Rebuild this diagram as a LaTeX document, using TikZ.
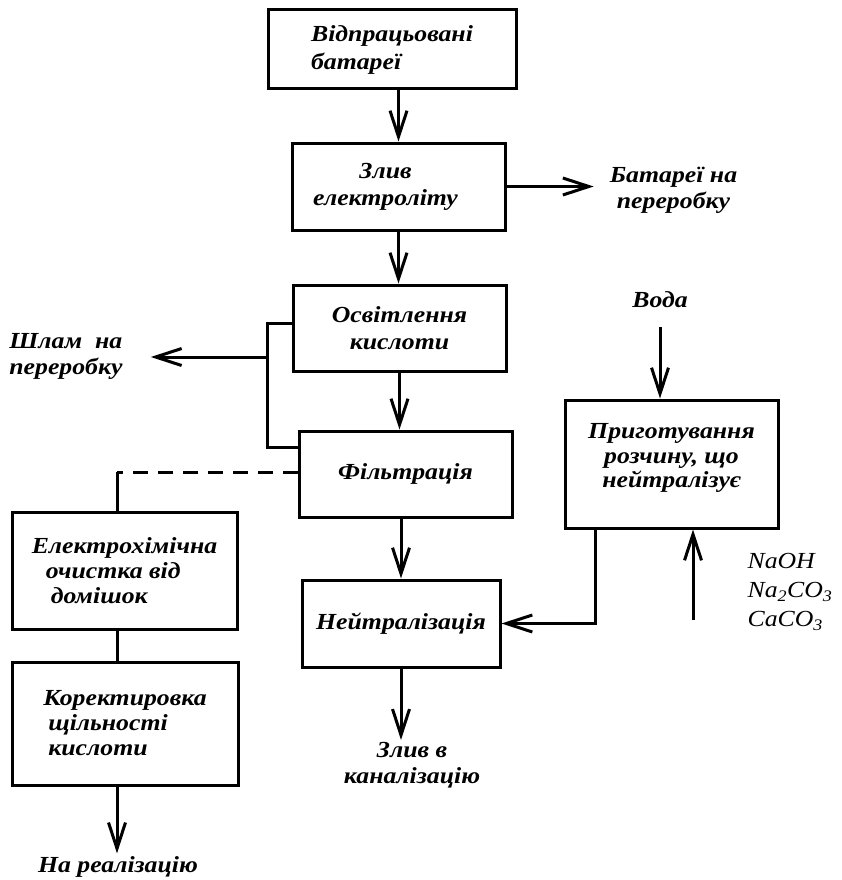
\documentclass[tikz,border=0pt]{standalone}
\usepackage{fontspec}
\setmainfont[FakeStretch=1.12]{Liberation Serif}
\usetikzlibrary{arrows.meta, positioning}

\begin{document}
\begin{tikzpicture}[x=1pt, y=-1pt,
    stage/.style={rectangle, draw, line width=3pt, inner sep=0pt, align=center,
        font=\fontsize{23}{25}\selectfont\bfseries\itshape},
    outlet/.style={rectangle, inner sep=0pt,
        font=\fontsize{23}{26}\selectfont\bfseries\itshape},
    flow/.style={line width=3pt, -{Straight Barb[length=26pt, width=17pt]}},
    link/.style={line width=3pt}]
        \useasboundingbox (0,0) rectangle (842,880);

        \node[stage, minimum width=248pt, minimum height=79pt, align=left,
            font=\fontsize{23}{28}\selectfont\bfseries\itshape] (b1) at (392,49.5)
            {Відпрацьовані\\батареї};

        \node[stage, minimum width=213pt, minimum height=87pt,
            font=\fontsize{23}{27}\selectfont\bfseries\itshape] (b2) at (398.5,186.5)
            {Злив\hspace*{26pt}\\електроліту\hspace*{26pt}};

        \node[stage, minimum width=213pt, minimum height=86pt,
            font=\fontsize{23}{27}\selectfont\bfseries\itshape] (b3) at (399.5,328)
            {Освітлення\\кислоти};

        \node[stage, minimum width=213pt, minimum height=86pt] (filt) at (405.5,474)
            {Фільтрація};

        \node[stage, minimum width=198pt, minimum height=87pt] (neut) at (401,623.5)
            {Нейтралізація};

        \node[stage, minimum width=213pt, minimum height=128pt,
            font=\fontsize{23}{24.5}\selectfont\bfseries\itshape] (prep) at (671.5,464)
            {Приготування\\розчину, що\hspace*{20pt}\\нейтралізує\\[-8pt]};

        \node[stage, minimum width=225pt, minimum height=117pt, align=left] (elec) at (124.5,570.5)
            {Електрохімічна\\\hspace*{14pt}очистка від\\\hspace*{19pt}домішок};

        \node[stage, minimum width=226pt, minimum height=123pt, align=left] (corr) at (125,723.5)
            {Коректировка\\\hspace*{5pt}щільності\\\hspace*{5pt}кислоти};

        \node[outlet, align=center] (bat) at (673.5,190) {Батареї на\\переробку};
        \node[outlet, align=left] (sludge) at (66,356) {Шлам\ \ на\\переробку};
        \node[outlet, align=center] (drain) at (412,765) {Злив в\\каналізацію};
        \node[outlet] (sale) at (118,867) {На реалізацію};
        \node[outlet] (water) at (660,300) {Вода};
        \node[outlet, align=left, font=\fontsize{23}{29}\selectfont\itshape] (reag) at (790,592)
            {NaOH\\Na\textsubscript{2}CO\textsubscript{3}\\CaCO\textsubscript{3}};

        \coordinate (jn) at (267,357);
        \coordinate (dn) at (117,472);
        \coordinate (rg) at (693,620);

        \draw[flow] (b1.south -| b2.north) -- (b2.north);
        \draw[flow] (b2.south) -- (b2.south |- b3.north);
        \draw[flow] (b3.south) -- (b3.south |- filt.north);
        \draw[flow] (filt.south -| neut.north) -- (neut.north);
        \draw[flow, shorten >=2pt] (neut.south) -- (neut.south |- drain.north);
        \draw[flow, shorten >=16pt] (b2.east) -- (bat.west |- b2.east);

        \draw[link] ([yshift=5pt]b3.west) -| (jn) |- ([yshift=27pt]filt.west);
        \draw[flow, shorten >=28pt] (jn) -- (sludge.east |- jn);

        \draw[link, dash pattern=on 15pt off 10pt] ([yshift=2pt]filt.west) -- (dn);
        \draw[link] (dn) -- (dn |- elec.north);
        \draw[link] (elec.south -| dn) -- (corr.north -| dn);
        \draw[flow, shorten >=3pt] (corr.south -| dn) -- (sale.north -| dn);

        \draw[flow, shorten <=19pt] (water.south) -- (water.south |- prep.north);
        \draw[flow] ([xshift=-76.5pt]prep.south) |- (neut.east);
        \draw[flow] (rg) -- (rg |- prep.south);

    \end{tikzpicture}
\end{document}
